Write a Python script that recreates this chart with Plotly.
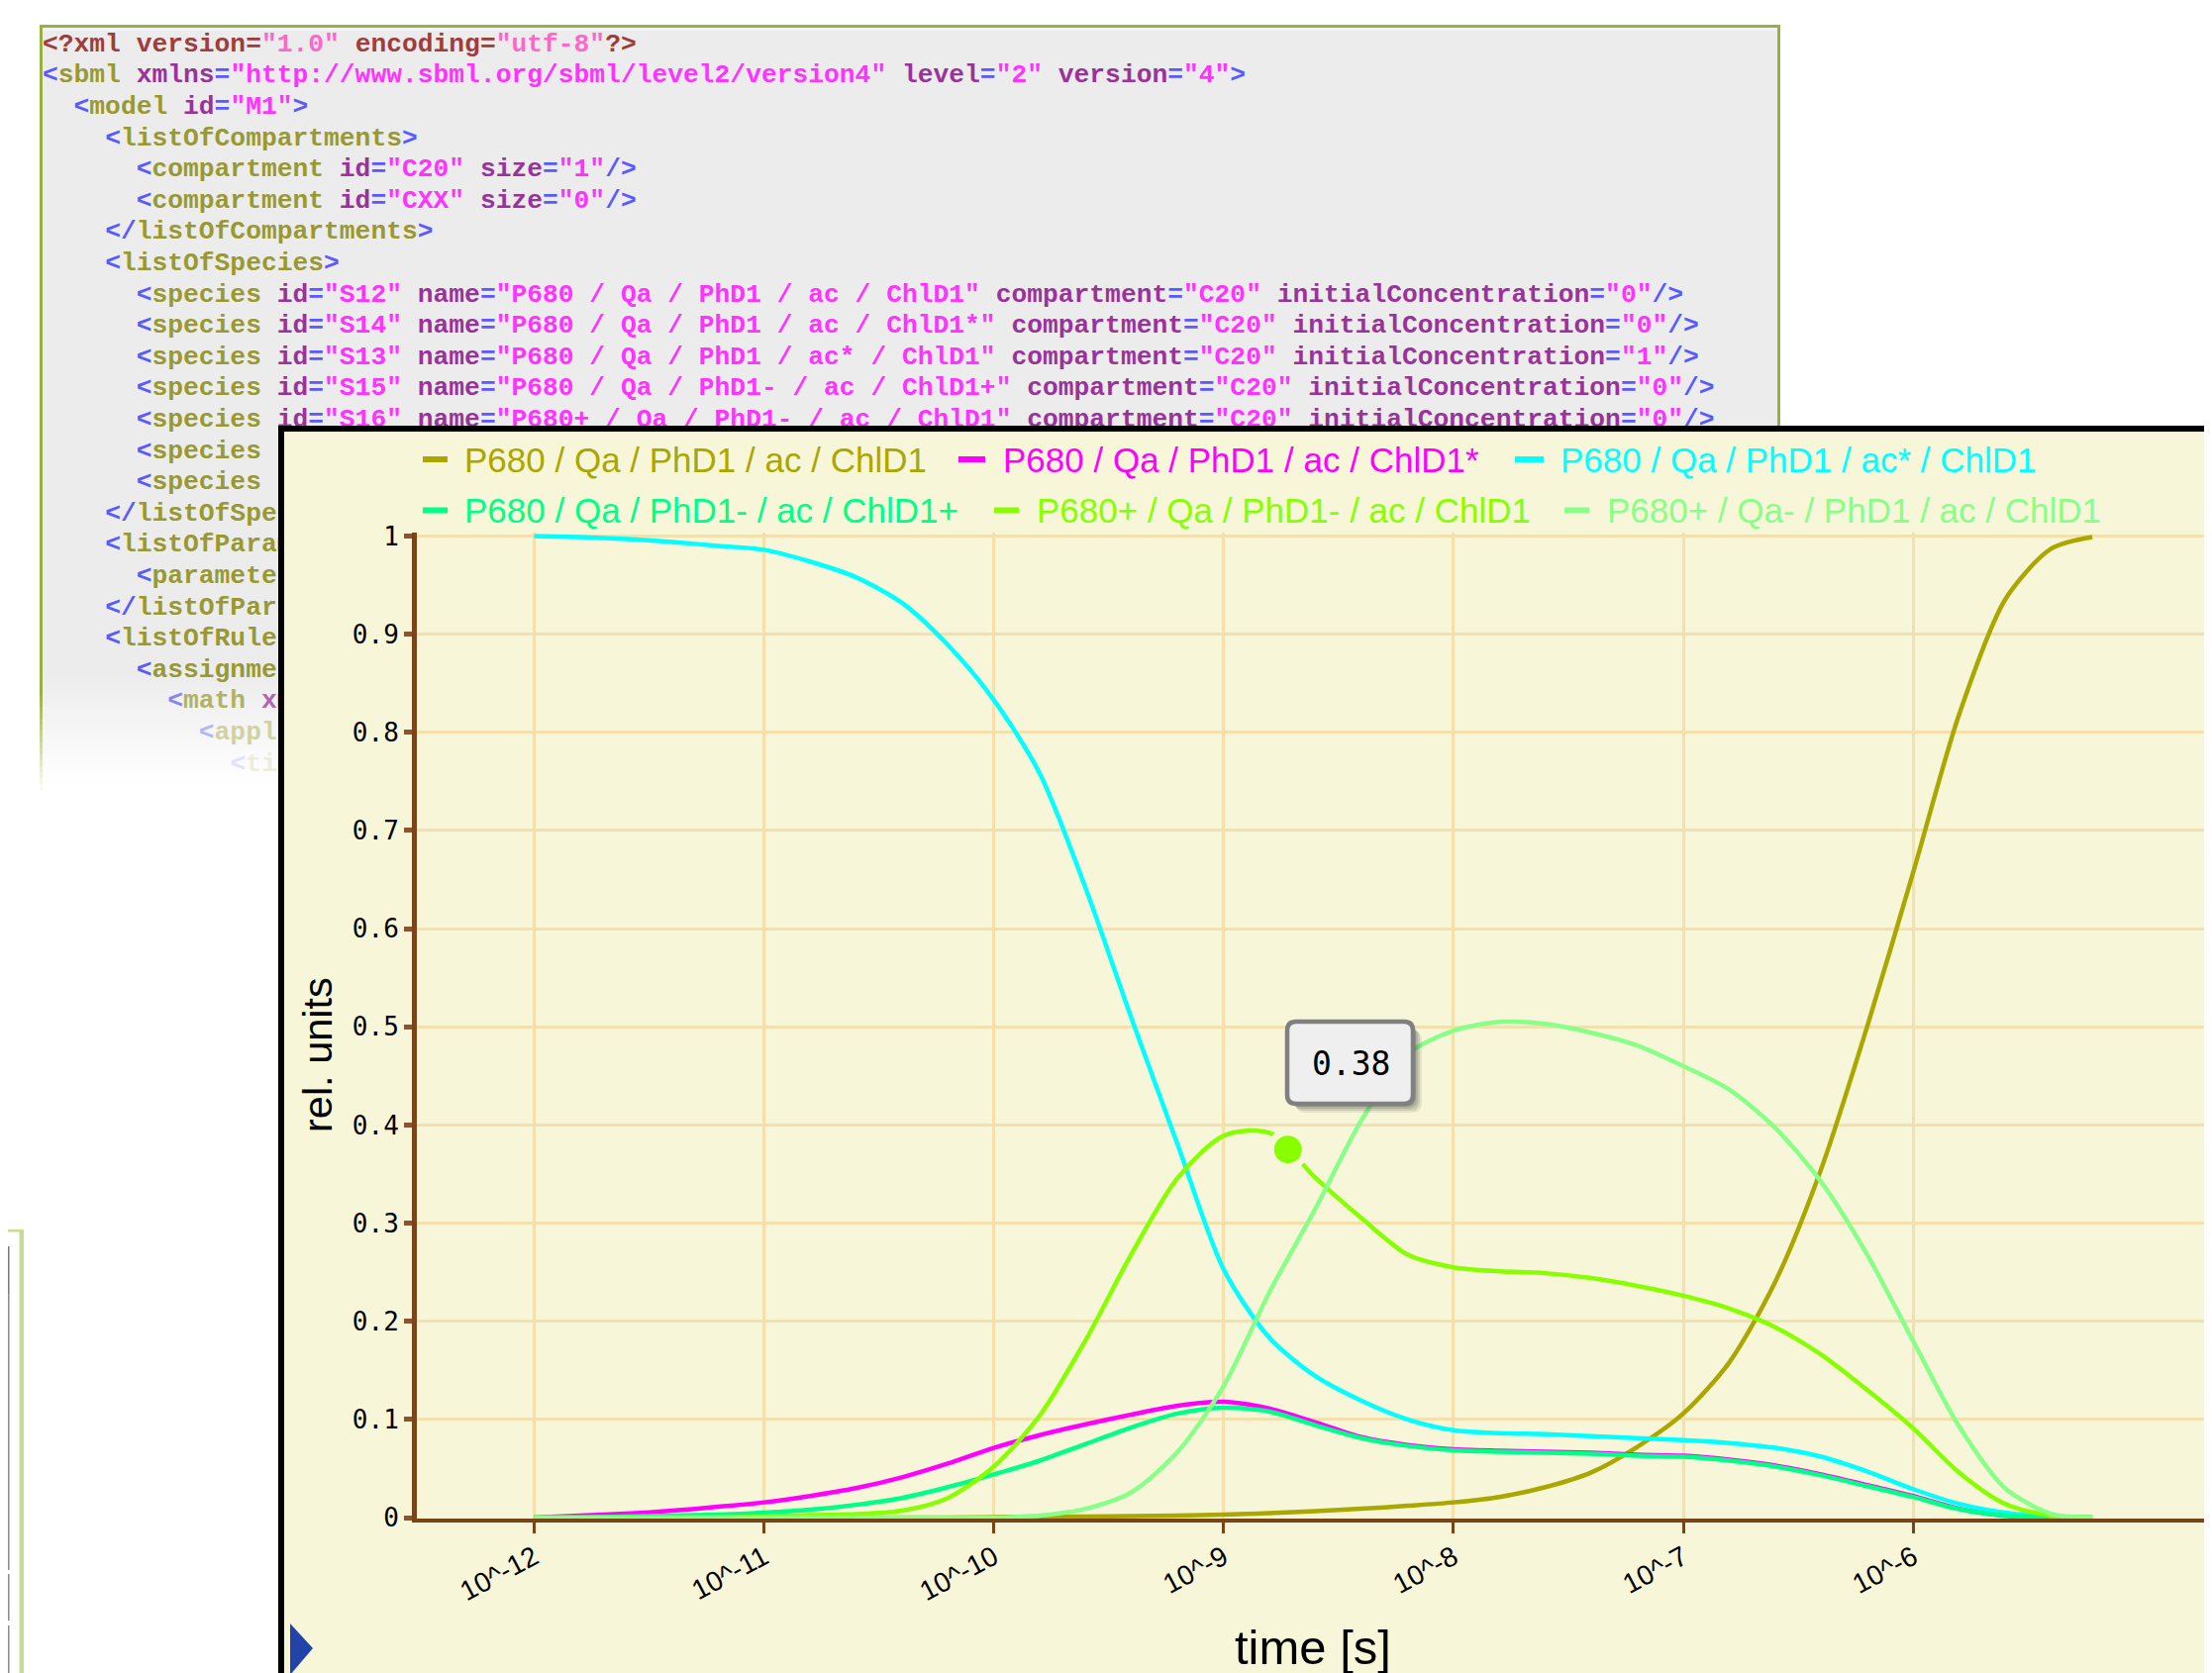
import re
import plotly.graph_objects as go

W, H = 2234, 1690
OFF = 8  # the page body margin: the figure starts 8 px in from the window corner

# ---------------- data ----------------
log_time = [-12.0, -11.8, -11.6, -11.4, -11.2, -11.0, -10.8, -10.6, -10.4, -10.2,
            -10.0, -9.8, -9.6, -9.4, -9.2, -9.0, -8.8, -8.6, -8.4, -8.2,
            -8.0, -7.8, -7.6, -7.4, -7.2, -7.0, -6.8, -6.6, -6.4, -6.2,
            -6.0, -5.8, -5.6, -5.4, -5.22]

s12_ground = [0, 0, 0, 0, 0, 0, 0, 0, 0, 0,
              0.0005, 0.001, 0.001, 0.0015, 0.002, 0.003, 0.0045, 0.0065, 0.009, 0.012,
              0.0155, 0.021, 0.031, 0.046, 0.072, 0.106, 0.158, 0.24, 0.355, 0.50,
              0.657, 0.818, 0.935, 0.987, 0.999]
s14_chl_star = [0.0, 0.002, 0.004, 0.007, 0.011, 0.0155, 0.022, 0.030, 0.041, 0.055,
                0.071, 0.084, 0.095, 0.105, 0.114, 0.118, 0.111, 0.097, 0.082, 0.074,
                0.0695, 0.068, 0.067, 0.066, 0.064, 0.063, 0.059, 0.053, 0.044, 0.033,
                0.022, 0.009, 0.002, 0.0, 0.0]
s13_ac_star = [1.0, 0.999, 0.997, 0.994, 0.990, 0.986, 0.974, 0.958, 0.932, 0.889,
               0.833, 0.758, 0.641, 0.508, 0.380, 0.253, 0.183, 0.144, 0.119, 0.100,
               0.089, 0.086, 0.085, 0.083, 0.081, 0.079, 0.076, 0.071, 0.062, 0.047,
               0.029, 0.014, 0.005, 0.001, 0.0]
s15_phd_chl = [0.0, 0.0, 0.001, 0.002, 0.003, 0.005, 0.008, 0.013, 0.020, 0.031,
               0.044, 0.058, 0.075, 0.092, 0.106, 0.112, 0.108, 0.094, 0.081, 0.073,
               0.0685, 0.067, 0.066, 0.065, 0.063, 0.062, 0.058, 0.052, 0.043, 0.032,
               0.021, 0.0085, 0.002, 0.0, 0.0]
s16_p680_phd = [0, 0, 0, 0, 0, 0.001, 0.0025, 0.0035, 0.007, 0.02,
                0.052, 0.104, 0.181, 0.269, 0.346, 0.389, 0.392, 0.346, 0.305, 0.268,
                0.255, 0.251, 0.249, 0.244, 0.236, 0.226, 0.213, 0.194, 0.166, 0.130,
                0.091, 0.046, 0.014, 0.002, 0.0]
s17_p680_qa = [0, 0, 0, 0, 0, 0, 0, 0, 0, 0,
               0.0, 0.002, 0.009, 0.026, 0.067, 0.134, 0.230, 0.315, 0.405, 0.472,
               0.496, 0.505, 0.503, 0.494, 0.481, 0.460, 0.436, 0.397, 0.342, 0.268,
               0.180, 0.093, 0.030, 0.004, 0.0]

series_names = ["P680 / Qa / PhD1 / ac / ChlD1",
                "P680 / Qa / PhD1 / ac / ChlD1*",
                "P680 / Qa / PhD1 / ac* / ChlD1",
                "P680 / Qa / PhD1- / ac / ChlD1+",
                "P680+ / Qa / PhD1- / ac / ChlD1",
                "P680+ / Qa- / PhD1 / ac / ChlD1"]
series_values = [s12_ground, s14_chl_star, s13_ac_star, s15_phd_chl, s16_p680_phd, s17_p680_qa]
series_colors = ["#aaa700", "#ff00ff", "#00ffff", "#00ff88", "#88ff00", "#88ff88"]

highlight_log_time = [-8.72]
highlight_value = [0.375]
highlight_label = "0.38"

tick_exponents = [-12, -11, -10, -9, -8, -7, -6]
tick_labels = ["10^-12", "10^-11", "10^-10", "10^-9", "10^-8", "10^-7", "10^-6"]
y_ticks = [0, 0.1, 0.2, 0.3, 0.4, 0.5, 0.6, 0.7, 0.8, 0.9, 1]
y_tick_labels = ["0", "0.1", "0.2", "0.3", "0.4", "0.5", "0.6", "0.7", "0.8", "0.9", "1"]
x_title = "time [s]"
y_title = "rel. units"

xml_lines = [
    (0, '<?xml version="1.0" encoding="utf-8"?>'),
    (0, '<sbml xmlns="http://www.sbml.org/sbml/level2/version4" level="2" version="4">'),
    (2, '<model id="M1">'),
    (4, '<listOfCompartments>'),
    (6, '<compartment id="C20" size="1"/>'),
    (6, '<compartment id="CXX" size="0"/>'),
    (4, '</listOfCompartments>'),
    (4, '<listOfSpecies>'),
    (6, '<species id="S12" name="P680 / Qa / PhD1 / ac / ChlD1" compartment="C20" initialConcentration="0"/>'),
    (6, '<species id="S14" name="P680 / Qa / PhD1 / ac / ChlD1*" compartment="C20" initialConcentration="0"/>'),
    (6, '<species id="S13" name="P680 / Qa / PhD1 / ac* / ChlD1" compartment="C20" initialConcentration="1"/>'),
    (6, '<species id="S15" name="P680 / Qa / PhD1- / ac / ChlD1+" compartment="C20" initialConcentration="0"/>'),
    (6, '<species id="S16" name="P680+ / Qa / PhD1- / ac / ChlD1" compartment="C20" initialConcentration="0"/>'),
    (6, '<species'),
    (6, '<species'),
    (4, '</listOfSpecies>'),
    (4, '<listOfParameters>'),
    (6, '<parameter'),
    (4, '</listOfParameters>'),
    (4, '<listOfRules>'),
    (6, '<assignmentRule'),
    (8, '<math xmlns'),
    (10, '<apply>'),
    (12, '<times/>'),
]
xml_fade = [0] * 21 + [0.25, 0.55, 0.82]

# ---------------- styling ----------------
CREAM = "#f8f6d8"
GRID = "#f3e0ac"
BROWN = "#7b4318"
XML_BG = "#ececec"
XML_BORDER = "#98b040"
C_BLUE, C_TAG, C_ATTR, C_VAL = "#5a5aff", "#999933", "#993399", "#ff33ff"
C_PI, C_PIVAL = "#a03c3c", "#ff66cc"


def blend(hexc, f):
    r, g, b = int(hexc[1:3], 16), int(hexc[3:5], 16), int(hexc[5:7], 16)
    r, g, b = [round(c + (255 - c) * f) for c in (r, g, b)]
    return "#%02x%02x%02x" % (r, g, b)


def esc(t):
    return t.replace("&", "&amp;").replace("<", "&lt;").replace(">", "&gt;").replace(" ", "\u00a0")


def colorize(indent, line, fade):
    pi = line.startswith("<?")
    out = ["\u00a0" * indent]
    prev = None
    for m in re.finditer(r'<\?xml|\?>|</|<|/>|>|=|"[^"]*"|[^\s<>="/?]+|\s+|.', line):
        tok = m.group(0)
        if tok.isspace():
            out.append("\u00a0" * len(tok))
            continue
        if tok in ("<?xml", "?>"):
            c = C_PI
        elif tok in ("<", "</", "/>", ">", "="):
            c = C_PI if pi and tok == "=" else C_BLUE
        elif tok.startswith('"'):
            c = C_PIVAL if pi else C_VAL
        elif prev in ("<", "</"):
            c = C_TAG
        else:
            c = C_PI if pi else C_ATTR
        prev = tok
        out.append('<span style="color:%s">%s</span>' % (blend(c, fade), esc(tok)))
    return "".join(out)


# page pixel -> paper fraction
def fx(x):
    return (x - OFF) / W


def fy(y):
    return 1 - (y - OFF) / H


def rect(x0, y0, x1, y1, fill, line=None, lw=0, layer="below"):
    return dict(type="rect", xref="paper", yref="paper",
                x0=fx(x0), x1=fx(x1), y0=fy(y1), y1=fy(y0),
                fillcolor=fill, line=dict(color=line or "rgba(0,0,0,0)", width=lw), layer=layer)


def pp(x, y):
    return "%.6f,%.6f" % (fx(x), fy(y))


def rrect(x0, y0, x1, y1, r, fill, line=None, lw=0, layer="above"):
    p = ("M" + pp(x0 + r, y0) + " L" + pp(x1 - r, y0) + " Q" + pp(x1, y0) + " " + pp(x1, y0 + r) +
         " L" + pp(x1, y1 - r) + " Q" + pp(x1, y1) + " " + pp(x1 - r, y1) +
         " L" + pp(x0 + r, y1) + " Q" + pp(x0, y1) + " " + pp(x0, y1 - r) +
         " L" + pp(x0, y0 + r) + " Q" + pp(x0, y0) + " " + pp(x0 + r, y0) + " Z")
    return dict(type="path", xref="paper", yref="paper", path=p, fillcolor=fill,
                line=dict(color=line or "rgba(0,0,0,0)", width=lw), layer=layer)


def ann(x, y, text, size, color="black", family="Liberation Sans, Arial, sans-serif",
        xanchor="center", angle=0):
    return dict(x=fx(x), y=fy(y), xref="paper", yref="paper", text=text, showarrow=False,
                xanchor=xanchor, yanchor="middle", textangle=angle,
                font=dict(size=size, color=color, family=family))


fig = go.Figure()

# ---- xy: page-pixel layer holding the XML listing (drawn under the chart panel) ----
fig.add_trace(go.Scatter(
    x=[43] * len(xml_lines),
    y=[45.3 + 31.6 * i for i in range(len(xml_lines))],
    text=[colorize(ind, ln, f) for (ind, ln), f in zip(xml_lines, xml_fade)],
    mode="text", textposition="middle right",
    textfont=dict(family="Liberation Mono, DejaVu Sans Mono, monospace", size=26.3,
                  color="#333", weight="bold"),
    hoverinfo="skip", showlegend=False, xaxis="x", yaxis="y"))

# ---- x2y2: the chart panel (its own background covers the listing) ----
fig.add_trace(go.Scatter(x=[0.5], y=[0.5], mode="markers", marker=dict(opacity=0),
                         hoverinfo="skip", showlegend=False, xaxis="x2", yaxis="y2"))

# ---- x3y3: the actual chart ----
xs = [10 ** e for e in log_time]
for name, vals, col in zip(series_names, series_values, series_colors):
    fig.add_trace(go.Scatter(x=xs, y=vals, name=name, mode="lines",
                             line=dict(color=col, width=4.5, shape="spline", smoothing=0.8),
                             hoverinfo="skip", showlegend=False, xaxis="x3", yaxis="y3"))

fig.add_trace(go.Scatter(x=[10 ** e for e in highlight_log_time], y=highlight_value, mode="markers",
                         marker=dict(size=35, color=series_colors[4], line=dict(color=CREAM, width=7)),
                         hoverinfo="skip", showlegend=False, xaxis="x3", yaxis="y3"))

# ---- geometry (page pixels) ----
plot_left, plot_top, plot_bottom = 421, 538, 1534
y0_px, y1_px = 1533.0, 541.5
dec_px, x12_px = 232.1, 539.5
x_lo = -12 - (x12_px - plot_left) / dec_px
x_hi = -12 + (W + OFF - x12_px) / dec_px
per_unit = y0_px - y1_px
y_lo = (y0_px - plot_bottom) / per_unit
y_hi = (y0_px - plot_top) / per_unit

shapes = []
shapes.append(rect(0, 0, W + OFF, H + OFF, "white"))
# XML panel with faded bottom
shapes.append(rect(41, 26, 1797, 682, XML_BG))
shapes.append(rect(43, 28, 1795, 31, "#f4f2fa"))
steps = 18
for i in range(steps):
    f = (i + 1) / (steps + 1)
    shapes.append(rect(41, 682 + i * 6, 1797, 682 + (i + 1) * 6 + 0.5, blend(XML_BG, f)))
shapes.append(rect(40, 25, 1798, 28, XML_BORDER))
shapes.append(rect(1795, 25, 1798, 440, XML_BORDER))
shapes.append(rect(40, 25, 43, 702, XML_BORDER))
for i in range(16):
    f = (i + 1) / 17
    shapes.append(rect(40, 702 + i * 6, 43, 702 + (i + 1) * 6 + 0.5, blend(XML_BORDER, f)))

# small side panel at lower left
shapes.append(rect(OFF, 1242, 24, 1244.5, "#c8dc98"))
shapes.append(rect(19.5, 1242, 24, H + OFF, "#c8dc98"))
shapes.append(rect(OFF - 2, 1260, 8.5, 1306, "#e9e9e9", "#7a7a7a", 2))
shapes.append(rect(OFF - 2, 1307, 8.5, 1585, "#ffffff", "#8a8a8a", 2))
shapes.append(rect(OFF - 2, 1591, 8.5, 1636, "#f2f24a", "#8a8a8a", 2))
shapes.append(rect(OFF - 2, 1643, 8.5, H + OFF, "#f0f0f0", "#8a8a8a", 2))

# chart panel corner + nav arrow
shapes.append(rect(281, 430, 287, 436, "black", layer="above"))
shapes.append(dict(type="path", xref="paper", yref="paper",
                   path="M" + pp(293, 1640) + " L" + pp(316, 1665) + " L" + pp(293, 1692) + " Z",
                   fillcolor="#2244aa", line=dict(width=0), layer="above"))

# legend markers and labels
legend_rows = [(464, [(427, 452, 467), (968, 995, 1011), (1530, 1559, 1574)]),
               (515.5, [(427, 452, 467), (1004, 1029, 1045), (1580, 1605, 1621)])]
annotations = []
k = 0
for ly, items in legend_rows:
    for mx0, mx1, tx in items:
        shapes.append(rect(mx0, ly - 3, mx1, ly + 3, series_colors[k], layer="above"))
        annotations.append(ann(tx, ly, series_names[k], 35, color=series_colors[k], xanchor="left"))
        k += 1

# tooltip box
for off, a in [(9, 0.10), (7, 0.14), (5, 0.18), (3, 0.22)]:
    shapes.append(rrect(1300 + off, 1032 + off, 1427 + off, 1115 + off, 10, "rgba(60,60,60,%.2f)" % a))
shapes.append(rrect(1300, 1032, 1427, 1115, 9, "#efefef", "#808080", 4.5))
annotations.append(ann(1364, 1074, highlight_label, 33, family="DejaVu Sans Mono, monospace"))

annotations.append(ann(320, 1066, y_title, 41.5, angle=-90))
annotations.append(ann(1326, 1664, x_title, 49))

fig.update_layout(
    width=W, height=H, margin=dict(l=0, r=0, t=0, b=0, pad=0),
    paper_bgcolor="white", plot_bgcolor=CREAM, showlegend=False, hovermode=False,
    xaxis=dict(domain=[0, 1], range=[OFF, W + OFF], visible=False, fixedrange=True),
    yaxis=dict(domain=[0, 1], range=[H + OFF, OFF], visible=False, fixedrange=True),
    xaxis2=dict(domain=[fx(287), 1], range=[0, 1], anchor="y2", side="top", showline=True,
                linecolor="black", linewidth=6, showticklabels=False, ticks="", showgrid=False,
                zeroline=False, fixedrange=True),
    yaxis2=dict(domain=[0, fy(436)], range=[0, 1], anchor="x2", side="left", showline=True,
                linecolor="black", linewidth=6, showticklabels=False, ticks="", showgrid=False,
                zeroline=False, fixedrange=True),
    xaxis3=dict(type="log", range=[x_lo, x_hi], domain=[fx(plot_left), 1], anchor="y3",
                tickvals=[10 ** e for e in tick_exponents], ticktext=tick_labels, tickangle=-28,
                tickfont=dict(family="Liberation Sans, Arial, sans-serif", size=28, color="black"),
                ticklabelstandoff=-3,
                showgrid=True, gridcolor=GRID, gridwidth=3, showline=True, linecolor=BROWN,
                linewidth=4, ticks="outside", ticklen=11, tickwidth=3, tickcolor=BROWN,
                zeroline=False, automargin=False, fixedrange=True),
    yaxis3=dict(range=[y_lo, y_hi], domain=[fy(plot_bottom), fy(plot_top)], anchor="x3",
                tickvals=y_ticks, ticktext=y_tick_labels,
                tickfont=dict(family="DejaVu Sans Mono, monospace", size=26, color="black"),
                showgrid=True, gridcolor=GRID, gridwidth=3, showline=True, linecolor=BROWN,
                linewidth=5, ticks="outside", ticklen=8, tickwidth=5, tickcolor="#8a5430",
                zeroline=True, zerolinecolor="#dcc08e", zerolinewidth=4,
                automargin=False, fixedrange=True),
    shapes=shapes, annotations=annotations,
)

fig.write_html("out.html")
